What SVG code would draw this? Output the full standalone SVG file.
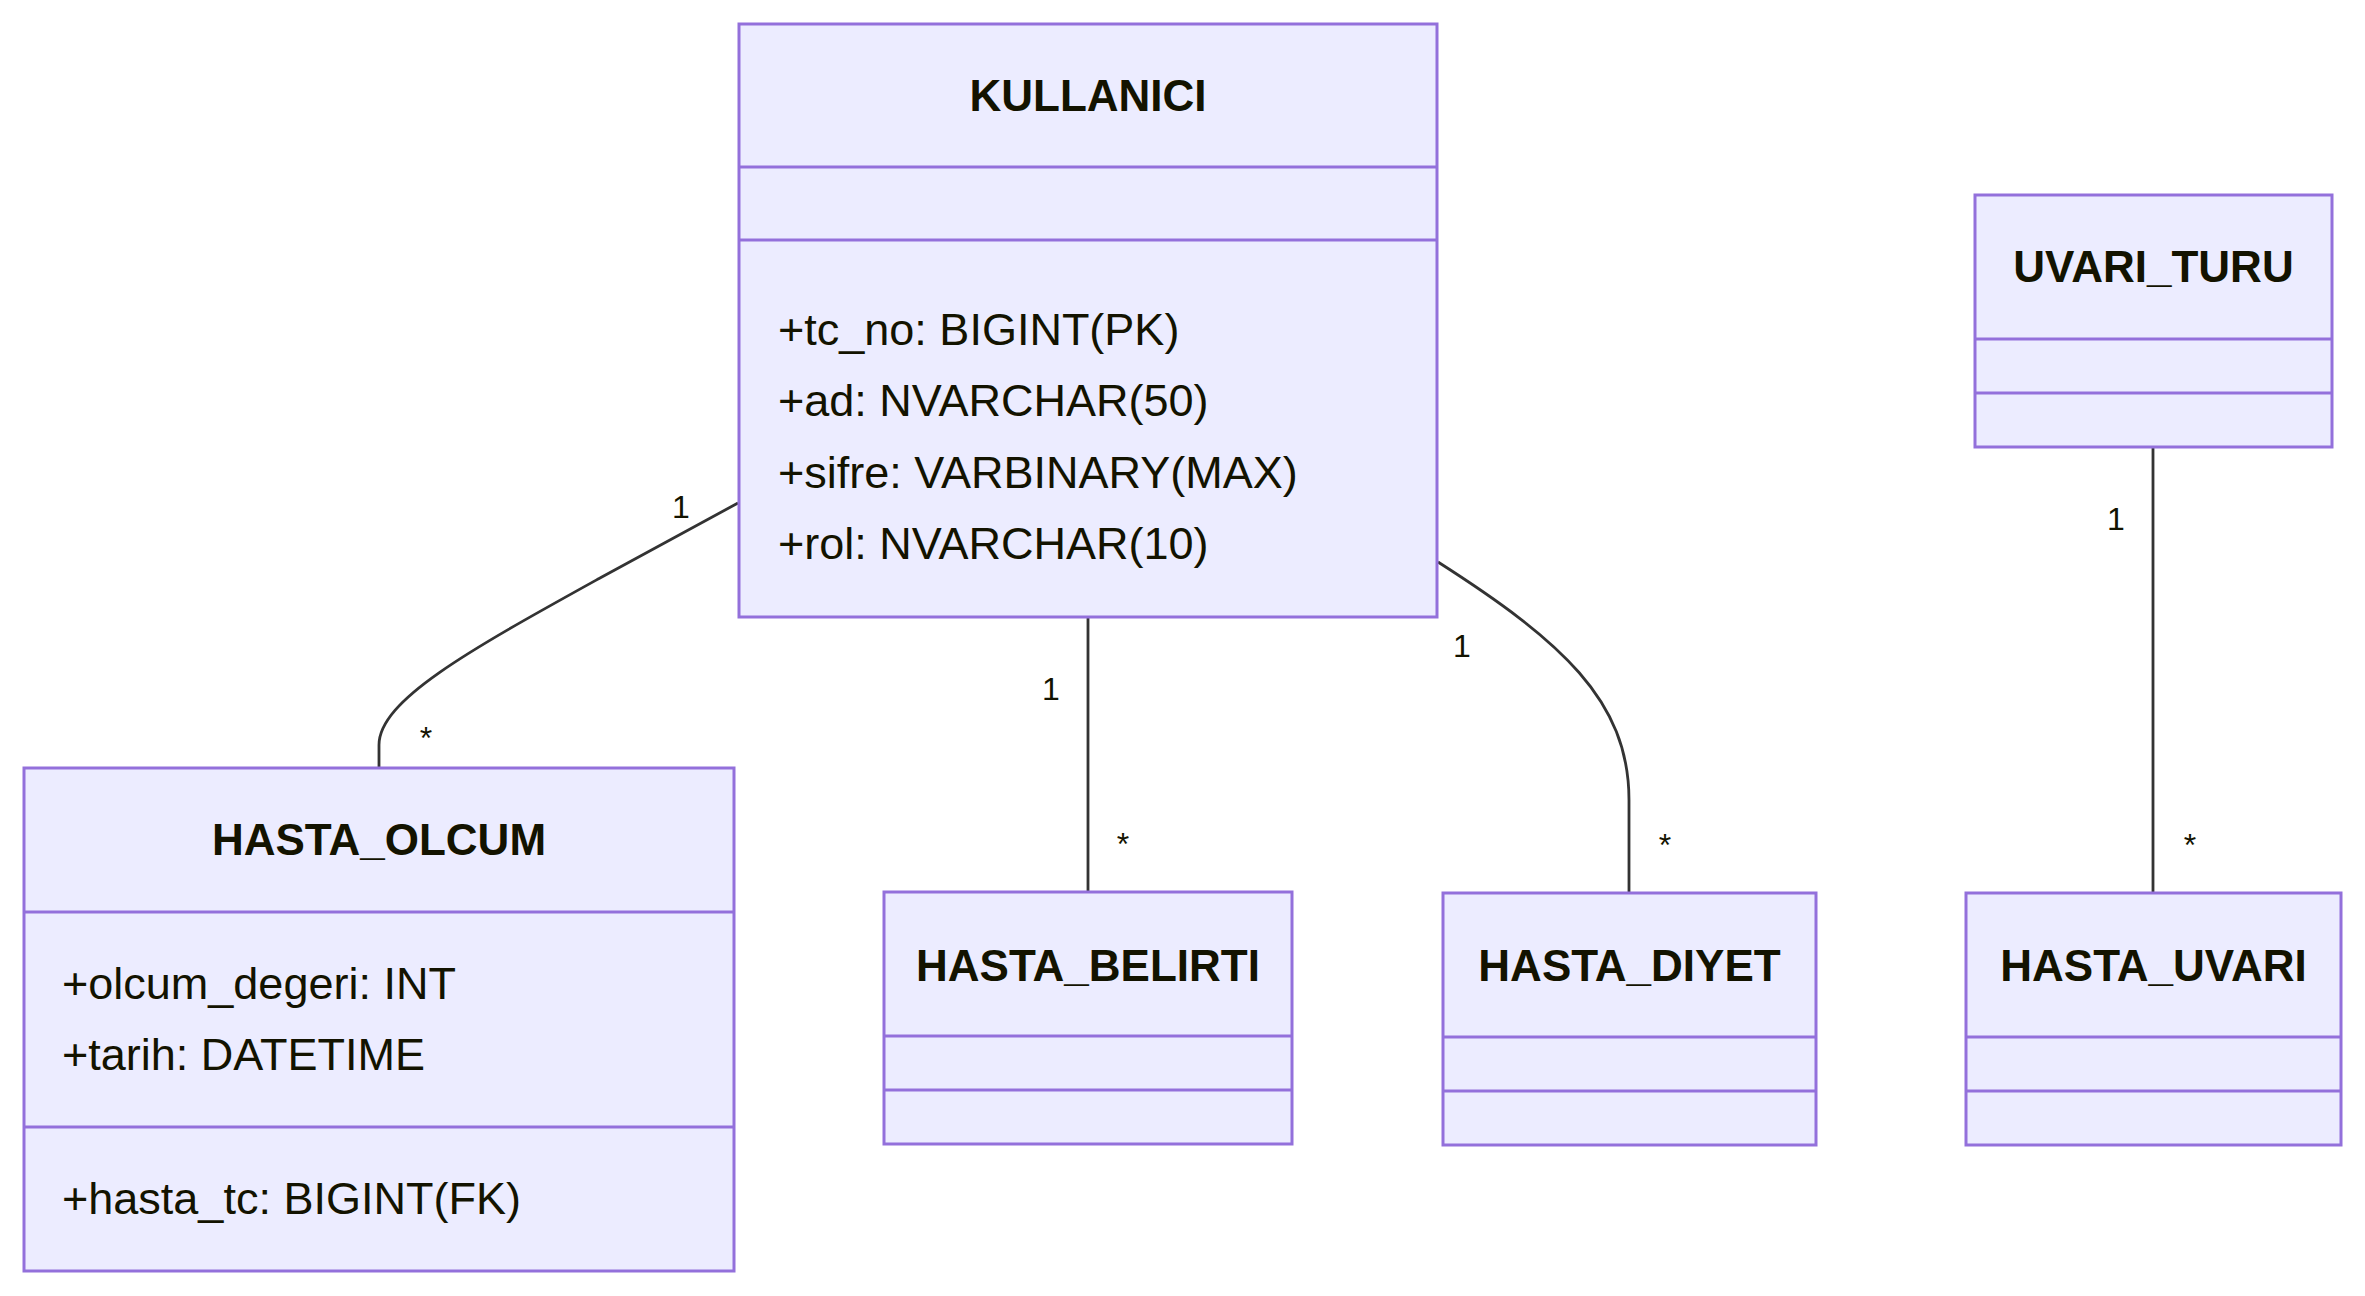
<svg xmlns="http://www.w3.org/2000/svg" width="2365" height="1296" viewBox="0 0 2365 1296">
<style>
.box{fill:#ECECFF;stroke:#9370DB;stroke-width:3}
.div{stroke:#9370DB;stroke-width:3}
.title{font-family:"Liberation Sans",Arial,sans-serif;font-weight:bold;font-size:44px;fill:#131300;text-anchor:middle}
.mem{font-family:"Liberation Sans",Arial,sans-serif;font-size:45px;fill:#131300}
.edge{fill:none;stroke:#333333;stroke-width:2.8}
.lbl{font-family:"Liberation Sans",Arial,sans-serif;font-size:32px;fill:#131300;text-anchor:middle}
</style>
<rect width="2365" height="1296" fill="#ffffff"/>
<g id="connectors">
<path class="edge" d="M738,503 L600,578 C470,650 379,700 379,745 L379,768"/>
<path class="edge" d="M1088,617 L1088,892"/>
<path class="edge" d="M1438,562 C1560,640 1629,700 1629,800 L1629,893"/>
<path class="edge" d="M2153,447 L2153,893"/>
<text class="lbl" x="681" y="518">1</text>
<text class="lbl" x="426" y="749">*</text>
<text class="lbl" x="1051" y="700">1</text>
<text class="lbl" x="1123" y="855">*</text>
<text class="lbl" x="1462" y="657">1</text>
<text class="lbl" x="1665" y="856">*</text>
<text class="lbl" x="2116" y="530">1</text>
<text class="lbl" x="2190" y="856">*</text>
</g>
<g id="KULLANICI">
<rect class="box" x="739" y="24" width="698" height="593"/>
<line class="div" x1="739" y1="167" x2="1437" y2="167"/>
<line class="div" x1="739" y1="240" x2="1437" y2="240"/>
<text class="title" x="1088" y="111">KULLANICI</text>
<text class="mem" x="778" y="345">+tc_no: BIGINT(PK)</text>
<text class="mem" x="778" y="416">+ad: NVARCHAR(50)</text>
<text class="mem" x="778" y="488">+sifre: VARBINARY(MAX)</text>
<text class="mem" x="778" y="559">+rol: NVARCHAR(10)</text>
</g>
<g id="UVARI_TURU">
<rect class="box" x="1975" y="195" width="357" height="252"/>
<line class="div" x1="1975" y1="339" x2="2332" y2="339"/>
<line class="div" x1="1975" y1="393" x2="2332" y2="393"/>
<text class="title" x="2153.5" y="282">UVARI_TURU</text>
</g>
<g id="HASTA_OLCUM">
<rect class="box" x="24" y="768" width="710" height="503"/>
<line class="div" x1="24" y1="912" x2="734" y2="912"/>
<line class="div" x1="24" y1="1127" x2="734" y2="1127"/>
<text class="title" x="379" y="855">HASTA_OLCUM</text>
<text class="mem" x="62" y="999">+olcum_degeri: INT</text>
<text class="mem" x="62" y="1070">+tarih: DATETIME</text>
<text class="mem" x="62" y="1214">+hasta_tc: BIGINT(FK)</text>
</g>
<g id="HASTA_BELIRTI">
<rect class="box" x="884" y="892" width="408" height="252"/>
<line class="div" x1="884" y1="1036" x2="1292" y2="1036"/>
<line class="div" x1="884" y1="1090" x2="1292" y2="1090"/>
<text class="title" x="1088" y="981">HASTA_BELIRTI</text>
</g>
<g id="HASTA_DIYET">
<rect class="box" x="1443" y="893" width="373" height="252"/>
<line class="div" x1="1443" y1="1037" x2="1816" y2="1037"/>
<line class="div" x1="1443" y1="1091" x2="1816" y2="1091"/>
<text class="title" x="1629.5" y="981">HASTA_DIYET</text>
</g>
<g id="HASTA_UVARI">
<rect class="box" x="1966" y="893" width="375" height="252"/>
<line class="div" x1="1966" y1="1037" x2="2341" y2="1037"/>
<line class="div" x1="1966" y1="1091" x2="2341" y2="1091"/>
<text class="title" x="2153.5" y="981">HASTA_UVARI</text>
</g>
</svg>
